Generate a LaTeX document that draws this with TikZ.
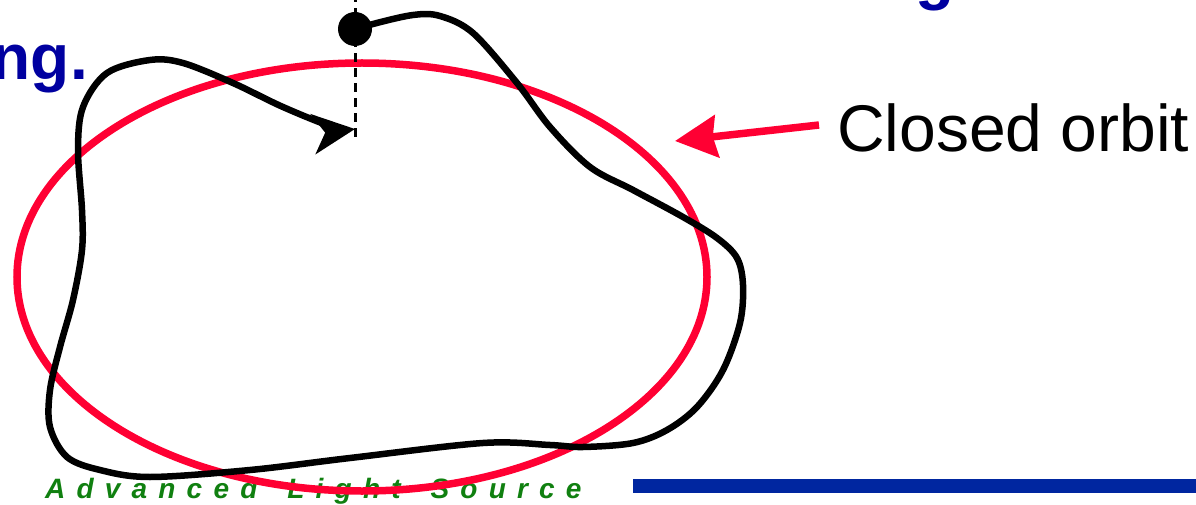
\documentclass[tikz,border=0pt]{standalone}
\usepackage{fontspec}
\setmainfont{Liberation Sans}
\newfontfamily\spacedsans[LetterSpace=40]{Liberation Sans}
\usetikzlibrary{arrows.meta}
\definecolor{orbitred}{RGB}{255,0,51}
\definecolor{headblue}{RGB}{0,0,160}
\definecolor{barblue}{RGB}{0,38,160}
\definecolor{alsgreen}{RGB}{16,128,16}
\tikzset{
  closedorbit/.style={draw=orbitred, line width=7.5pt},
  trajectory/.style={draw=black, line width=6.5pt, line join=round},
  refline/.style={draw=black, line width=3pt, dash pattern=on 9pt off 6pt},
  pointer/.style={draw=orbitred, line width=7.5pt,
    -{Stealth[length=42pt,width=42pt,inset=4pt]}},
  headtext/.style={text=headblue, font=\bfseries\fontsize{64}{64}\selectfont, inner sep=0pt},
  labeltext/.style={text=black, font=\fontsize{66}{66}\selectfont, inner sep=0pt},
  logotext/.style={text=alsgreen, font=\spacedsans\bfseries\itshape\fontsize{28}{28}\selectfont, inner sep=0pt}
}
\begin{document}
\begin{tikzpicture}[x=1pt,y=-1pt]
  \useasboundingbox (0,0) rectangle (1196,505);
  \clip (0,0) rectangle (1196,505);

  % title fragments at the top
  \node[headtext, anchor=base east] (title) at (88,80) {ng.};
  \node[headtext, anchor=base west] (titleright) at (915,-2) {g};

  % footer: logo text and rule
  \node[logotext, anchor=base west] (logo) at (45,498)
    {Advanced\hspace{30pt}Light\hspace{30pt}Source};
  \fill[barblue] (633,479) rectangle (1196,493);
  \coordinate (barstart) at (633,486);

  % closed orbit
  \draw[closedorbit] (362,277) ellipse [x radius=345, y radius=214];
  \coordinate (orbitedge) at (675,141);

  % perturbed trajectory starting at the dot
  \coordinate (start) at (355,29);
  \coordinate (finish) at (355,129);
  \draw[trajectory, -{Stealth[length=42pt,width=40pt,inset=12pt]}]
    plot[smooth, tension=0.55] coordinates {
      (355,30) (373,24) (413,15) (440,16) (473,33) (517,83) (550,127)
      (590,167) (633,190) (683,217) (717,238) (737,258) (743,285)
      (740,323) (723,370) (697,407) (667,430) (633,443) (583,447)
      (550,445) (483,443) (350,458) (250,470) (150,477) (100,470)
      (67,457) (50,427) (50,390) (60,347) (73,300) (82,250) (82,210)
      (78,150) (83,107) (107,73) (150,60) (183,63) (233,83) (283,107)
      (333,127) (355,129)};

  % reference line through the start point
  \coordinate (linetop) at (355,0);
  \coordinate (linebottom) at (355,137);
  \draw[refline] (linebottom) -- (linetop);
  \fill[black] (start) circle [radius=17];

  % label with pointer
  \node[labeltext, anchor=base west] (label) at (837,152) {Closed orbit};
  \coordinate (pointerstart) at (819,125);
  \draw[pointer] (pointerstart) -- (orbitedge);
\end{tikzpicture}
\end{document}
